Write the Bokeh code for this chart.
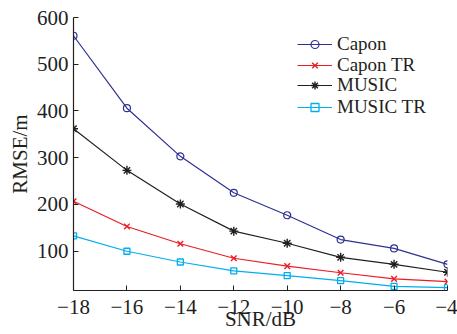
from bokeh.plotting import figure
from bokeh.models import Legend, LegendItem, FixedTicker, Range1d
from bokeh.embed import file_html
from bokeh.resources import INLINE

snr = [-18, -16, -14, -12, -10, -8, -6, -4]
capon = [561, 406, 303, 225, 177, 125, 106, 72]
capon_tr = [207, 153, 116, 85, 68, 54, 41, 35]
music = [362, 273, 201, 143, 117, 87, 72, 55]
music_tr = [133, 100, 77, 58, 48, 37, 25, 22]

x_ticks = [-18, -16, -14, -12, -10, -8, -6, -4]
x_tick_labels = ["\u221218", "\u221216", "\u221214", "\u221212", "\u221210", "\u22128", "\u22126", "\u22124"]
y_ticks = [100, 200, 300, 400, 500, 600]
series_names = ["Capon", "Capon TR", "MUSIC", "MUSIC TR"]
x_title = "SNR/dB"
y_title = "RMSE/m"

FONT = "Liberation Serif"
INK = "#231F20"

p = figure(width=457, height=334, output_backend="svg", toolbar_location=None,
           x_range=Range1d(-18, -4), y_range=Range1d(16, 600),
           min_border_left=73, min_border_right=10, min_border_top=17, min_border_bottom=44)
p.outline_line_color = None
p.xgrid.visible = False
p.ygrid.visible = False
p.background_fill_color = "white"

colors = ["#2E3192", "#ED1C24", INK, "#00AEEF"]
data = [capon, capon_tr, music, music_tr]
items = []
for name, ys, c in zip(series_names, data, colors):
    ln = p.line(snr, ys, line_color=c, line_width=1.2)
    if name == "Capon":
        mk = p.scatter(snr, ys, marker="circle", size=7, fill_color=None, line_color=c, line_width=1.2)
    elif name == "Capon TR":
        mk = p.scatter(snr, ys, marker="x", size=8, line_color=c, line_width=1.4)
    elif name == "MUSIC":
        mk = p.scatter(snr, ys, marker="asterisk", size=9, line_color=c, line_width=1.4)
    else:
        mk = p.scatter(snr, ys, marker="square", size=6, fill_color=None, line_color=c, line_width=1.3)
    items.append(LegendItem(label=name, renderers=[ln, mk]))

for ax in (p.xaxis[0], p.yaxis[0]):
    ax.axis_line_color = INK
    ax.axis_line_width = 1.2
    ax.major_tick_line_color = INK
    ax.major_tick_in = 5
    ax.major_tick_out = 0
    ax.minor_tick_line_color = None
    ax.major_label_text_font = FONT
    ax.major_label_text_font_size = "21px"
    ax.major_label_text_color = INK
    ax.axis_label_text_font = FONT
    ax.axis_label_text_font_size = "21px"
    ax.axis_label_text_font_style = "normal"
    ax.axis_label_text_color = INK

p.xaxis.ticker = FixedTicker(ticks=x_ticks)
p.xaxis.major_label_overrides = {t: l for t, l in zip(x_ticks, x_tick_labels)}
p.yaxis.ticker = FixedTicker(ticks=y_ticks)
p.xaxis.axis_label = x_title
p.yaxis.axis_label = y_title
p.xaxis.major_label_standoff = 9
p.xaxis.axis_label_standoff = -10
p.yaxis.major_label_standoff = 5
p.yaxis.axis_label_standoff = 2

legend_y = [235, 214, 194, 172]
for it, ly in zip(items, legend_y):
    lg = Legend(items=[it], location=(224, ly), border_line_color=None,
                background_fill_alpha=0, padding=0, margin=0, spacing=0,
                glyph_width=35, glyph_height=20, label_height=20, label_standoff=5,
                label_text_font=FONT, label_text_font_size="19px", label_text_color=INK)
    p.add_layout(lg)

open("out.html", "w").write(file_html(p, INLINE))
